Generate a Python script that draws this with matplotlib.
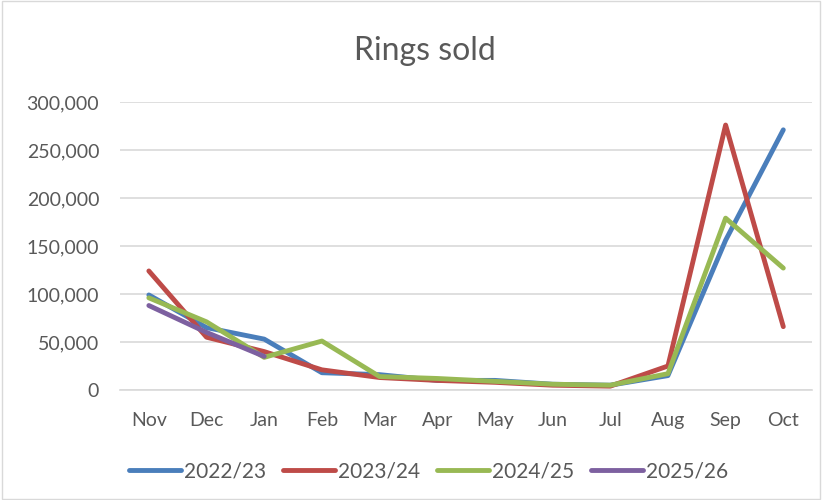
import matplotlib.pyplot as plt
from matplotlib.patches import Rectangle
from matplotlib.ticker import FuncFormatter

months = ["Nov", "Dec", "Jan", "Feb", "Mar", "Apr", "May", "Jun", "Jul", "Aug", "Sep", "Oct"]

sold_2022 = [99000, 65000, 53000, 18000, 16000, 10000, 10000, 6000, 5000, 15000, 156000, 271000]
sold_2023 = [124000, 55000, 40000, 21000, 13000, 10000, 8000, 5000, 4000, 25000, 276000, 66000]
sold_2024 = [96000, 71000, 34000, 51000, 14000, 12000, 9000, 6000, 5000, 17000, 179000, 127000]
sold_2025 = [88000, 60000, 35000]

series = [
    ("2022/23", sold_2022, "#4A7EBB"),
    ("2023/24", sold_2023, "#BE4B48"),
    ("2024/25", sold_2024, "#98B954"),
    ("2025/26", sold_2025, "#7D60A0"),
]

plt.rcParams['font.family'] = ['Lato', 'DejaVu Sans']

fig = plt.figure(figsize=(8.22, 5), dpi=100)
ax = fig.add_axes([0.146, 0.22, 0.842, 0.576])

for name, vals, col in series:
    ax.plot(range(len(vals)), vals, color=col, lw=3.5, label=name,
            solid_capstyle="round", solid_joinstyle="round")

ax.set_xlim(-0.5, 11.5)
ax.set_ylim(0, 300000)
ax.set_yticks(range(0, 300001, 50000))
ax.yaxis.set_major_formatter(FuncFormatter(lambda v, p: f"{int(v):,}"))
ax.set_xticks(range(len(months)))
ax.set_xticklabels(months)
ax.tick_params(axis="both", length=0, labelsize=14, colors="#595959")
ax.tick_params(axis="y", pad=15)
ax.tick_params(axis="x", pad=16)
ax.grid(axis="y", color="#D9D9D9", lw=1.2)
ax.set_axisbelow(True)
for s in ["top", "right", "left"]:
    ax.spines[s].set_visible(False)
ax.spines["bottom"].set_color("#D9D9D9")
ax.spines["bottom"].set_linewidth(1.2)

fig.text(0.517, 0.898, "Rings sold", ha="center", va="center", fontsize=23, color="#595959")

fig.legend(loc="center", bbox_to_anchor=(0.521, 0.058), ncol=4, frameon=False,
           fontsize=15, handlelength=2.5, handletextpad=0.15, columnspacing=0.8,
           labelcolor="#595959")

fig.patches.append(Rectangle((0.002, 0.002), 0.996, 0.996, transform=fig.transFigure,
                             fill=False, edgecolor="#D9D9D9", lw=1))

fig.savefig("out.png", dpi=100)
